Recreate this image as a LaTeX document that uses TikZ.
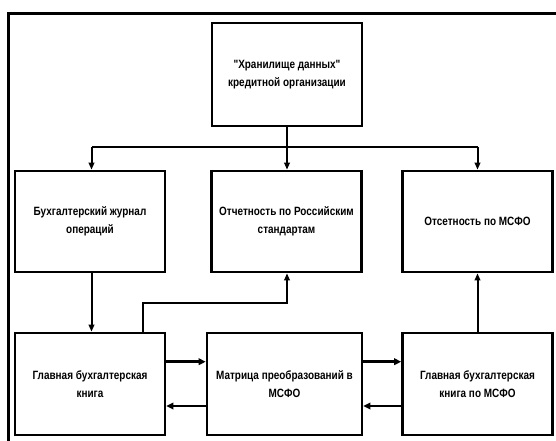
\documentclass[tikz,border=0pt]{standalone}
\usepackage{fontspec}
\setmainfont{Liberation Sans}
\newfontfamily\boxfont[FakeStretch=0.83]{Liberation Sans Bold}
\usetikzlibrary{arrows.meta}
\begin{document}
\begin{tikzpicture}[x=1pt,y=-1pt,
  blk/.style={draw,line width=2.6pt,align=center,inner sep=0pt,
    font=\boxfont\fontsize{12}{18.5}\selectfont},
  conn/.style={line width=2pt,-{Triangle[length=7pt,width=5.5pt]}},
  plain/.style={line width=2pt},
  harr/.style={line width=2.8pt,-{Triangle[length=7pt,width=6.5pt]}}]
\useasboundingbox (0,0) rectangle (556,441);
\draw[line width=3.4pt] (8.7,450) -- (8.7,13.7) -- (565,13.7);
\node[blk,minimum width=150pt,minimum height=103pt] (top) at (287,74.5)
  {"Хранилище данных"\\кредитной организации};
\node[blk,minimum width=150pt,minimum height=101pt] (b1) at (90,221.5)
  {Бухгалтерский журнал\\операций};
\node[blk,minimum width=150pt,minimum height=101pt] (b2) at (286.5,221.5)
  {Отчетность по Российским\\стандартам};
\node[blk,minimum width=150pt,minimum height=101pt] (b3) at (477.5,221.5)
  {Отсетность по МСФО};
\node[blk,minimum width=150pt,minimum height=102pt] (c1) at (90,384)
  {Главная бухгалтерская\\книга};
\node[blk,minimum width=155pt,minimum height=102pt] (c2) at (284.5,384)
  {Матрица преобразований в\\МСФО};
\node[blk,minimum width=150pt,minimum height=102pt] (c3) at (477.5,384)
  {Главная бухгалтерская\\книга по МСФО};
% tree from top
\coordinate (j) at (287,147);
\draw[plain] (top.south) -- (j);
\draw[plain] (j) -- (91.5,147) coordinate (jl);
\draw[plain] (j) -- (477.5,147) coordinate (jr);
\draw[conn] (jl) -- (jl |- b1.north);
\draw[conn] (j) -- (j |- b2.north);
\draw[conn] (jr) -- (jr |- b3.north);
% vertical links
\draw[conn] ([xshift=1.5pt]b1.south) -- ([xshift=1.5pt]c1.north);
\coordinate (k1) at (142.5,302.7);
\draw[conn] (c1.north -| k1) -- (k1) -| ([xshift=0.5pt]b2.south);
\draw[conn] (c3.north) -- (b3.south);
% horizontal arrows
\draw[harr] ([yshift=22.3pt]c1.east) -- ([yshift=22.3pt]c1.east -| c2.west);
\draw[harr] ([yshift=-22pt]c2.west) -- ([yshift=-22pt]c2.west -| c1.east);
\draw[harr] ([yshift=22.3pt]c2.east) -- ([yshift=22.3pt]c2.east -| c3.west);
\draw[harr] ([yshift=-22pt]c3.west) -- ([yshift=-22pt]c3.west -| c2.east);
\end{tikzpicture}
\end{document}
